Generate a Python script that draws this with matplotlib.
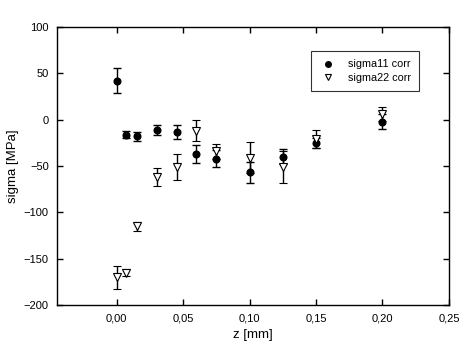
import matplotlib
matplotlib.use('Agg')
import matplotlib.pyplot as plt
from matplotlib.lines import Line2D
from matplotlib.ticker import FuncFormatter

plt.rcParams['font.family'] = ['Liberation Sans', 'DejaVu Sans']

# depth positions [mm]
z = [0.0, 0.007, 0.015, 0.03, 0.045, 0.06, 0.075, 0.1, 0.125, 0.15, 0.2]

# sigma11 corr
s11 = [42, -16, -18, -11, -13, -37, -42, -57, -40, -25, -2]
s11_err = [13.5, 4.3, 4.5, 5, 7.5, 10, 9, 11.5, 8, 5.5, 8]

# sigma22 corr
s22 = [-170, -165, -115, -62, -51, -12, -34, -41, -51, -21, 6]
s22_err = [12.6, 4, 4.7, 9.5, 14.4, 11.3, 8, 17, 17, 10, 7.5]

fig = plt.figure(figsize=(4.73, 3.54), dpi=100)
ax = fig.add_axes([0.1205, 0.1384, 0.8285, 0.7853])

ax.errorbar(z, s11, yerr=s11_err, fmt='o', color='black', ms=4.8,
            ecolor='black', elinewidth=1, capsize=3, capthick=1, zorder=3)
ax.errorbar(z, s22, yerr=s22_err, fmt='v', color='black', ms=5.2,
            mfc='white', mec='black', mew=0.8,
            ecolor='black', elinewidth=1, capsize=3, capthick=1, zorder=4)

ax.set_xlim(-0.045, 0.25)
ax.set_ylim(-200, 100)
ax.set_xticks([0.0, 0.05, 0.10, 0.15, 0.20, 0.25])
ax.set_yticks([-200, -150, -100, -50, 0, 50, 100])
ax.xaxis.set_major_formatter(FuncFormatter(lambda v, p: ('%.2f' % v).replace('.', ',')))
ax.tick_params(direction='in', top=True, right=True, length=4, width=1,
               labelsize=8, pad=6)
for s in ax.spines.values():
    s.set_linewidth(1)

ax.set_xlabel('z [mm]', fontsize=9.5, labelpad=4)
ax.set_ylabel('sigma [MPa]', fontsize=9.5, labelpad=3)

# legend shows markers only (no error bars)
handles = [Line2D([], [], ls='none', marker='o', color='black', ms=4),
           Line2D([], [], ls='none', marker='v', mfc='white', mec='black', mew=0.8, ms=5)]
leg = ax.legend(handles, ['sigma11 corr', 'sigma22 corr'],
                loc='upper left', bbox_to_anchor=(0.648, 0.915), fontsize=7.8,
                frameon=True, fancybox=False, edgecolor='black',
                handletextpad=1.0, borderpad=0.8, labelspacing=0.3,
                handlelength=1.6, borderaxespad=0)
leg.get_frame().set_linewidth(0.8)

fig.savefig('out.png', dpi=100)
